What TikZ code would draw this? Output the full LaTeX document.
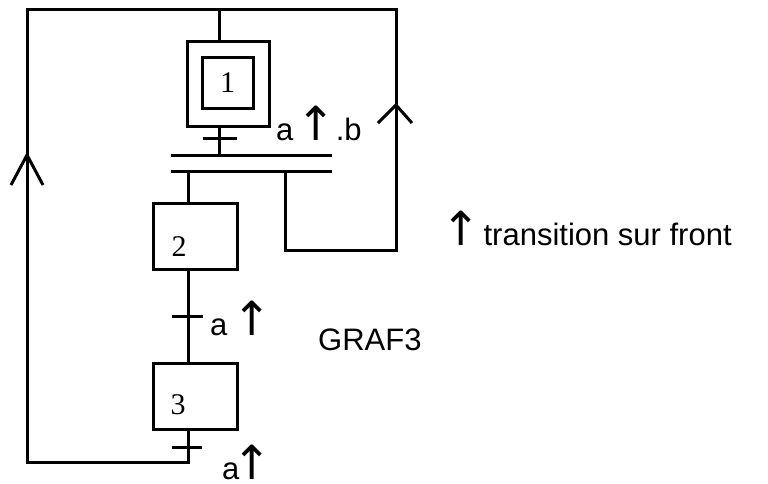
\documentclass[tikz,border=0pt]{standalone}
\usepackage{fontspec}
\setmainfont{Liberation Sans}
\newfontfamily\numfont{Liberation Serif}
\newfontfamily\arrowfont{DejaVu Sans}
\usetikzlibrary{positioning}

% rising edge arrow
\newcommand{\front}{{\arrowfont\fontsize{47}{47}\selectfont ↑}}

\begin{document}
\begin{tikzpicture}[x=1pt, y=-1pt,
    grafline/.style={line width=3pt},
    stepbox/.style={draw, line width=3pt, inner sep=0pt, minimum width=84pt, minimum height=66pt},
    initbox/.style={draw, line width=3pt, inner sep=0pt, minimum width=82pt, minimum height=85pt},
    innerbox/.style={draw, line width=3pt, inner sep=0pt, minimum size=51pt},
    steptext/.style={inner sep=0pt, font=\numfont\fontsize{30}{30}\selectfont},
    txt/.style={inner sep=0pt, anchor=base west, font=\fontsize{31}{36}\selectfont}]
    \useasboundingbox (0,0) rectangle (768,483);

    % Steps
    \node[initbox] (s1) at (228,83.5) {};
    \node[innerbox] (s1in) at (227.5,82.5) {};
    \node[steptext] (n1) at (s1in) {1};
    \node[stepbox] (s2) at (195,236) {};
    \node[steptext] (n2) at (179,247) {2};
    \node[stepbox] (s3) at (195,396.5) {};
    \node[steptext] (n3) at (178,405) {3};

    % Column, bars and loops
    \coordinate (col1) at (219,0);
    \coordinate (col) at (188,0);
    \coordinate (ret) at (285,0);
    \coordinate (bar1w) at (171,155);
    \coordinate (bar1e) at (332,155);
    \coordinate (bar2w) at (171,171);
    \coordinate (bar2e) at (332,171);
    \coordinate (tl) at (27,9);
    \coordinate (tr) at (396,9);
    \coordinate (bl) at (27,462);
    \coordinate (br) at (396,250);

    \draw[grafline] (bar1w) -- (bar1e);
    \draw[grafline] (bar2w) -- (bar2e);
    \draw[grafline] (col1 |- tl) -- (col1 |- s1.north);
    \draw[grafline] (col1 |- s1.south) -- (col1 |- bar1w);
    \draw[grafline] (col |- bar2w) -- (col |- s2.north);
    \draw[grafline] (col |- s2.south) -- (col |- s3.north);
    \draw[grafline] (col |- s3.south) -- (col |- bl) -- (bl) -- (tl) -- (tr) -- (br) -- (ret |- br) -- (ret |- bar2w);

    % Transitions
    \coordinate (t1) at (219,138);
    \coordinate (t2) at (188,316);
    \coordinate (t3) at (188,447);
    \draw[grafline] ([xshift=-16pt]t1) -- ([xshift=18pt]t1);
    \draw[grafline] ([xshift=-16pt]t2) -- ([xshift=15pt]t2);
    \draw[grafline] ([xshift=-16pt]t3) -- ([xshift=14pt]t3);

    % Arrows on the loops
    \coordinate (upl) at (27,155);
    \coordinate (upr) at (396,105);
    \draw[grafline] ([shift={(-16,30)}]upl) -- (upl) -- ([shift={(16,30)}]upl);
    \draw[grafline] ([shift={(-18,18)}]upr) -- (upr) -- ([shift={(16,18)}]upr);

    % Labels
    \node[txt] (lab1) at (276,140) {a\hspace{3pt}\front.b};
    \node[txt] (lab2) at (210,335) {a\hspace{5pt}\front};
    \node[txt] (lab3) at (222,479) {a\hspace{-7pt}\front};
    \node[txt] (graf) at (318,350) {GRAF3};
    \node[txt] (note) at (441,245) {\front\hspace{3pt}transition sur front};
\end{tikzpicture}
\end{document}
